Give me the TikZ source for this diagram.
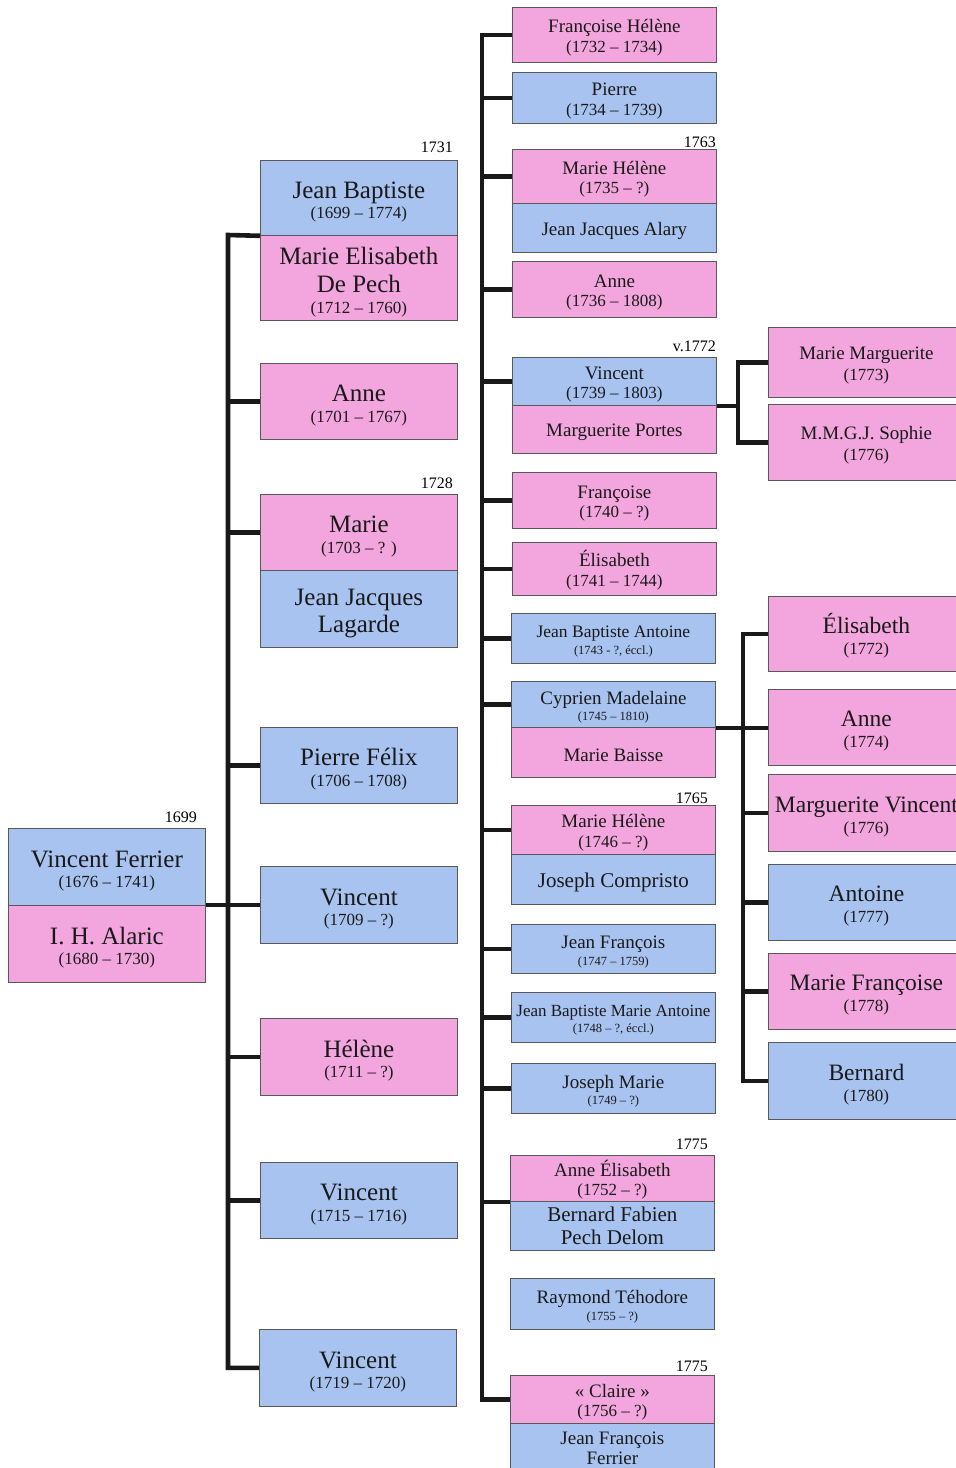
\documentclass[tikz,border=0pt]{standalone}
\usepackage{fontspec}
\setmainfont{Liberation Serif}
\definecolor{pinkc}{RGB}{243,166,221}
\definecolor{bluec}{RGB}{168,195,240}
\newcommand\Nb[1]{{\fontsize{25}{25}\selectfont\rule{0pt}{1em}#1}}
\newcommand\NB[1]{{\fontsize{25}{25}\selectfont #1}}
\newcommand\Nm[1]{{\fontsize{19}{19}\selectfont\rule{0pt}{1em}#1}}
\newcommand\Nr[1]{{\fontsize{23.5}{23.5}\selectfont\rule{0pt}{1em}#1}}
\newcommand\St{\rule{0pt}{1em}}
\tikzset{
 bx/.style={draw=black!65, line width=0.8pt, anchor=north west, inner sep=0pt, align=center, text=black!90},
 pk/.style={bx, fill=pinkc},
 bl/.style={bx, fill=bluec},
 wa/.style={minimum width=197pt},
 wb/.style={minimum width=204pt},
 wc/.style={minimum width=196pt},
 fa/.style={font=\fontsize{17}{20.5}\selectfont},
 fm/.style={font=\fontsize{17}{19.5}\selectfont},
 fs/.style={font=\fontsize{12.5}{16.7}\selectfont},
 fr/.style={font=\fontsize{17}{21}\selectfont},
 yr/.style={anchor=base east, inner sep=0pt, font=\fontsize{16}{16}\selectfont},
 conn/.style={line width=4.6pt, draw=black!90},
}
\begin{document}
\begin{tikzpicture}[x=1pt,y=-1pt]
\fill[white] (0,0) rectangle (956,1468);
\useasboundingbox (0,0) rectangle (956,1468);
\clip (0,0) rectangle (956,1468);
% root
\node[bl, wa, fa, minimum height=77pt] (vf) at (8,828) {\Nb{Vincent Ferrier}\\(1676 – 1741)};
\node[pk, wa, fa, minimum height=77pt] (iha) at (8,905) {\Nb{I. H. Alaric}\\(1680 – 1730)};
\node[yr] (l1699) at (197,822) {1699};
% column 2
\node[bl, wa, fa, minimum height=75pt] (jb) at (260,160) {\Nb{Jean Baptiste}\\(1699 – 1774)};
\node[pk, wa, fa, minimum height=85pt] (mep) at (260,235) {\Nb{Marie Elisabeth}\\[8pt]\NB{De Pech}\\(1712 – 1760)};
\node[yr] (l1731) at (453,152) {1731};
\node[pk, wa, fa, minimum height=76pt] (anne1) at (260,363) {\Nb{Anne}\\(1701 – 1767)};
\node[pk, wa, fa, minimum height=76pt] (marie) at (260,494) {\Nb{Marie}\\(1703 – ? )};
\node[yr] (l1728) at (453,488) {1728};
\node[bl, wa, font=\fontsize{25}{27}\selectfont, minimum height=77pt] (jjl) at (260,570) {\St Jean Jacques\\Lagarde};
\node[bl, wa, fa, minimum height=76pt] (pf) at (260,727) {\Nb{Pierre Félix}\\(1706 – 1708)};
\node[bl, wa, fa, minimum height=77pt] (v09) at (260,866) {\Nb{Vincent}\\(1709 – ?)};
\node[pk, wa, fa, minimum height=77pt] (hel) at (260,1018) {\Nb{Hélène}\\(1711 – ?)};
\node[bl, wa, fa, minimum height=76pt] (v15) at (260,1162) {\Nb{Vincent}\\(1715 – 1716)};
\node[bl, wa, fa, minimum height=77pt] (v19) at (259,1329) {\Nb{Vincent}\\(1719 – 1720)};
% column 3
\node[pk, wb, fm, minimum height=55pt] (fh) at (512,7) {\Nm{Françoise Hélène}\\(1732 – 1734)};
\node[bl, wb, fm, minimum height=51pt] (pi) at (512,72) {\Nm{Pierre}\\(1734 – 1739)};
\node[yr] (l1763) at (716,147) {1763};
\node[pk, wb, fm, minimum height=54pt] (mh1) at (512,149) {\Nm{Marie Hélène}\\(1735 – ?)};
\node[bl, wb, font=\fontsize{19}{19}\selectfont, minimum height=49pt] (jja) at (512,203) {\St Jean Jacques Alary};
\node[pk, wb, fm, minimum height=56pt] (an2) at (512,261) {\Nm{Anne}\\(1736 – 1808)};
\node[yr] (l1772) at (716,351) {v.1772};
\node[bl, wb, fm, minimum height=48pt] (vi) at (512,357) {\Nm{Vincent}\\(1739 – 1803)};
\node[pk, wb, font=\fontsize{19}{19}\selectfont, minimum height=48pt] (mp) at (512,405) {\St Marguerite Portes};
\node[pk, wb, fm, minimum height=56pt] (fr) at (512,472) {\Nm{Françoise}\\(1740 – ?)};
\node[pk, wb, fm, minimum height=53pt] (el) at (512,542) {\Nm{Élisabeth}\\(1741 – 1744)};
\node[bl, wb, fs, minimum height=50pt] (jba) at (511,613) {{\fontsize{17.5}{17.5}\selectfont\St Jean Baptiste Antoine}\\(1743 - ?, éccl.)};
\node[bl, wb, fs, minimum height=46pt] (cm) at (511,681) {\Nm{Cyprien Madelaine}\\(1745 – 1810)};
\node[pk, wb, font=\fontsize{19}{19}\selectfont, minimum height=50pt] (mb) at (511,727) {\St Marie Baisse};
\node[yr] (l1765) at (708,803) {1765};
\node[pk, wb, fm, minimum height=49pt] (mh2) at (511,805) {\Nm{Marie Hélène}\\(1746 – ?)};
\node[bl, wb, font=\fontsize{21}{21}\selectfont, minimum height=50pt] (jc) at (511,854) {\St Joseph Compristo};
\node[bl, wb, fs, minimum height=49pt] (jf) at (511,924) {\Nm{Jean François}\\(1747 – 1759)};
\node[bl, wb, fs, minimum height=50pt] (jbma) at (511,992) {{\fontsize{17}{17}\selectfont\St Jean Baptiste Marie Antoine}\\(1748 – ?, éccl.)};
\node[bl, wb, fs, minimum height=50pt] (jm) at (511,1063) {\Nm{Joseph Marie}\\(1749 – ?)};
\node[yr] (l1775a) at (708,1149) {1775};
\node[pk, wb, fm, minimum height=46pt] (ae) at (510,1155) {\Nm{Anne Élisabeth}\\(1752 – ?)};
\node[bl, wb, font=\fontsize{21}{23}\selectfont, minimum height=49pt] (bf) at (510,1201) {Bernard Fabien\\Pech Delom};
\node[bl, wb, fs, minimum height=51pt] (rt) at (510,1278) {\Nm{Raymond Téhodore}\\(1755 – ?)};
\node[yr] (l1775b) at (708,1371) {1775};
\node[pk, wb, fm, minimum height=48pt] (cl) at (510,1375) {\Nm{« Claire »}\\(1756 – ?)};
\node[bl, wb, font=\fontsize{19}{20}\selectfont, minimum height=50pt] (jff) at (510,1423) {Jean François\\Ferrier};
% column 4
\node[pk, wc, fr, minimum height=70pt] (mm) at (768,327) {\Nm{Marie Marguerite}\\(1773)};
\node[pk, wc, fr, minimum height=76pt] (so) at (768,404) {\Nm{M.M.G.J. Sophie}\\(1776)};
\node[pk, wc, fr, minimum height=75pt] (e2) at (768,596) {\Nr{Élisabeth}\\(1772)};
\node[pk, wc, fr, minimum height=76pt] (a3) at (768,689) {\Nr{Anne}\\(1774)};
\node[pk, wc, fr, minimum height=77pt] (mv) at (768,774) {\Nr{Marguerite Vincent}\\(1776)};
\node[bl, wc, fr, minimum height=76pt] (at) at (768,864) {\Nr{Antoine}\\(1777)};
\node[pk, wc, fr, minimum height=76pt] (mf) at (768,953) {\Nr{Marie Françoise}\\(1778)};
\node[bl, wc, fr, minimum height=77pt] (be) at (768,1042) {\Nr{Bernard}\\(1780)};
% bars
\coordinate (bar2) at (228,235);
\coordinate (bar3) at (482,0);
\coordinate (bar4) at (738,0);
\coordinate (bar5) at (743,0);
% connectors col 2
\draw[conn] (iha.north east) -- (iha.north east -| v09.west);
\draw[conn] (jb.south west) -- (bar2) |- (v19.west);
\foreach \n in {anne1,marie,pf,hel,v15} \draw[conn] (\n.west) -- (\n.west -| bar2);
% connectors col 3
\draw[conn] (fh.west) -- (fh.west -| bar3) -- (cl.west -| bar3) -- (cl.west);
\foreach \n in {pi,mh1,an2,vi,fr,el,jba,cm,mh2,jf,jbma,jm} \draw[conn] (\n.west) -- (\n.west -| bar3);
\draw[conn] (ae.south west) -- (ae.south west -| bar3);
% connectors col 4
\draw[conn] (vi.south east) -- (vi.south east -| bar4);
\draw[conn] (mm.west) -- (mm.west -| bar4) -- (so.west -| bar4) -- (so.west);
\draw[conn] (cm.south east) -- (cm.south east -| a3.west);
\draw[conn] (e2.west) -- (e2.west -| bar5) -- (be.west -| bar5) -- (be.west);
\foreach \n in {mv,at,mf} \draw[conn] (\n.west) -- (\n.west -| bar5);
\end{tikzpicture}
\end{document}
